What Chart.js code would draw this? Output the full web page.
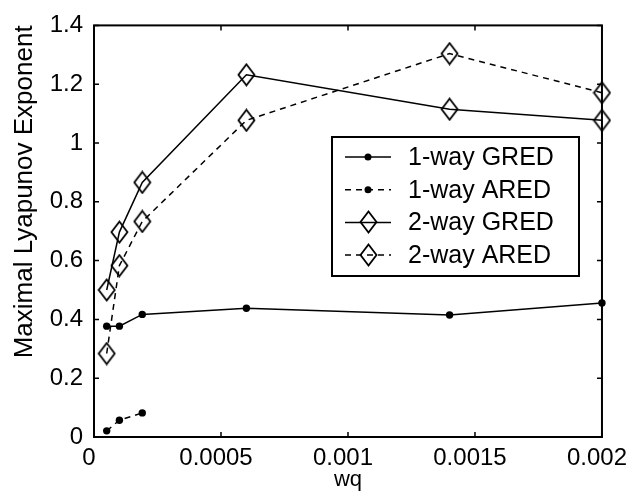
<!DOCTYPE html>
<html>
<head>
<meta charset="utf-8">
<script src="https://cdn.jsdelivr.net/npm/chart.js@4/dist/chart.umd.min.js"></script>
<style>
  html, body { margin: 0; padding: 0; background: #fff; }
  canvas { display: block; }
</style>
</head>
<body>
<canvas id="c" width="639" height="495"></canvas>
<script>
// Averaging weight wq and the measured exponents
const wq = [0.00005, 0.0001, 0.00019, 0.0006, 0.0014, 0.002];
const wqShort = [0.00005, 0.0001, 0.00019];
const gred1way = [0.377, 0.377, 0.417, 0.438, 0.415, 0.456];
const ared1way = [0.021, 0.057, 0.082];
const gred2way = [0.5, 0.697, 0.866, 1.232, 1.115, 1.077];
const ared2way = [0.284, 0.583, 0.733, 1.077, 1.304, 1.171];
const seriesNames = ['1-way GRED', '1-way ARED', '2-way GRED', '2-way ARED'];

const xTicks = [0, 0.0005, 0.001, 0.0015, 0.002];
const xTickLabels = ['0', '0.0005', '0.001', '0.0015', '0.002'];
const yTicks = [0, 0.2, 0.4, 0.6, 0.8, 1, 1.2, 1.4];
const yTickLabels = ['0', '0.2', '0.4', '0.6', '0.8', '1', '1.2', '1.4'];

const FONT = "'Liberation Sans', Arial, Helvetica, sans-serif";
const DASH = [6, 5];

// hollow, slightly tall diamond marker
function makeDiamond() {
  const w = 19, h = 24;
  const c = document.createElement('canvas');
  c.width = w; c.height = h;
  const g = c.getContext('2d');
  g.strokeStyle = '#000';
  g.lineWidth = 1.8;
  g.beginPath();
  g.moveTo(w / 2, 1.5);
  g.lineTo(w - 1.5, h / 2);
  g.lineTo(w / 2, h - 1.5);
  g.lineTo(1.5, h / 2);
  g.closePath();
  g.stroke();
  return c;
}
const diamond = makeDiamond();

const pts = (xs, ys) => ys.map((y, i) => ({ x: xs[i], y }));

function series(label, xs, ys, dashed, marker) {
  const dot = marker === 'dot';
  return {
    label,
    data: pts(xs, ys),
    borderColor: '#000',
    borderWidth: 1.5,
    borderDash: dashed ? DASH : [],
    pointStyle: dot ? 'circle' : diamond,
    pointRadius: dot ? 3.7 : 10,
    pointBackgroundColor: '#000',
    pointBorderColor: '#000',
    pointBorderWidth: 0,
    fill: false,
    tension: 0,
    clip: false
  };
}

// box around the plot with inward tick marks on all four sides
const frame = {
  id: 'frame',
  beforeDatasetsDraw(chart) {
    const { ctx, chartArea: a, scales } = chart;
    ctx.save();
    ctx.strokeStyle = '#000';
    ctx.lineWidth = 2;
    ctx.strokeRect(a.left, a.top, a.right - a.left, a.bottom - a.top);
    ctx.lineWidth = 1.5;
    ctx.beginPath();
    xTicks.forEach(v => {
      const px = scales.x.getPixelForValue(v);
      ctx.moveTo(px, a.bottom); ctx.lineTo(px, a.bottom - 5);
      ctx.moveTo(px, a.top); ctx.lineTo(px, a.top + 5);
    });
    yTicks.forEach(v => {
      const py = scales.y.getPixelForValue(v);
      ctx.moveTo(a.left, py); ctx.lineTo(a.left + 5, py);
      ctx.moveTo(a.right, py); ctx.lineTo(a.right - 5, py);
    });
    ctx.stroke();
    ctx.restore();
  }
};

// boxed legend inside the plot area
const boxLegend = {
  id: 'boxLegend',
  afterDatasetsDraw(chart) {
    const { ctx } = chart;
    const bx = 332, by = 137, bw = 247, bh = 139;
    const row0 = 157, rowStep = 32.7;
    ctx.save();
    ctx.fillStyle = '#fff';
    ctx.fillRect(bx, by, bw, bh);
    ctx.strokeStyle = '#000';
    ctx.lineWidth = 2;
    ctx.strokeRect(bx, by, bw, bh);
    chart.data.datasets.forEach((ds, i) => {
      const y = row0 + i * rowStep;
      ctx.setLineDash(ds.borderDash);
      ctx.lineWidth = 1.5;
      ctx.beginPath();
      ctx.moveTo(345, y);
      ctx.lineTo(391, y);
      ctx.stroke();
      ctx.setLineDash([]);
      if (ds.pointStyle === 'circle') {
        ctx.fillStyle = '#000';
        ctx.beginPath();
        ctx.arc(368, y, 3.5, 0, Math.PI * 2);
        ctx.fill();
      } else {
        ctx.drawImage(ds.pointStyle, Math.round(368 - ds.pointStyle.width / 2), Math.round(y - ds.pointStyle.height / 2));
      }
      ctx.fillStyle = '#000';
      ctx.font = '25px ' + FONT;
      ctx.textAlign = 'left';
      ctx.textBaseline = 'middle';
      ctx.fillText(ds.label, 408, y + 1);
    });
    ctx.restore();
  }
};

Chart.defaults.color = '#000';

new Chart(document.getElementById('c'), {
  type: 'line',
  data: {
    datasets: [
      series(seriesNames[0], wq, gred1way, false, 'dot'),
      series(seriesNames[1], wqShort, ared1way, true, 'dot'),
      series(seriesNames[2], wq, gred2way, false, 'diamond'),
      series(seriesNames[3], wq, ared2way, true, 'diamond')
    ]
  },
  options: {
    responsive: false,
    devicePixelRatio: 1,
    animation: false,
    events: [],
    layout: { padding: { top: 17, right: 35, left: 0, bottom: 0 } },
    plugins: {
      legend: { display: false },
      tooltip: { enabled: false }
    },
    scales: {
      x: {
        type: 'linear',
        min: 0,
        max: 0.002,
        afterBuildTicks: s => { s.ticks = xTicks.map(v => ({ value: v })); },
        afterFit: s => { s.height = 58; },
        ticks: {
          callback: (v, i) => xTickLabels[i],
          font: { family: FONT, size: 24 },
          color: '#000',
          padding: 7,
          maxRotation: 0,
          autoSkip: false,
          labelOffset: -5
        },
        grid: { display: false, drawTicks: false },
        border: { display: false },
        title: {
          display: true,
          text: 'wq',
          font: { family: FONT, size: 22 },
          color: '#000',
          padding: { top: 0, bottom: 2 }
        }
      },
      y: {
        type: 'linear',
        min: 0,
        max: 1.4,
        afterBuildTicks: s => { s.ticks = yTicks.map(v => ({ value: v })); },
        afterFit: s => { s.width = 94; },
        ticks: {
          callback: (v, i) => yTickLabels[i],
          font: { family: FONT, size: 24 },
          color: '#000',
          padding: 11,
          autoSkip: false
        },
        grid: { display: false, drawTicks: false },
        border: { display: false },
        title: {
          display: true,
          text: 'Maximal Lyapunov Exponent',
          align: 'end',
          font: { family: FONT, size: 26 },
          color: '#000',
          padding: { top: 9, bottom: 0 }
        }
      }
    }
  },
  plugins: [frame, boxLegend]
});
</script>
</body>
</html>
